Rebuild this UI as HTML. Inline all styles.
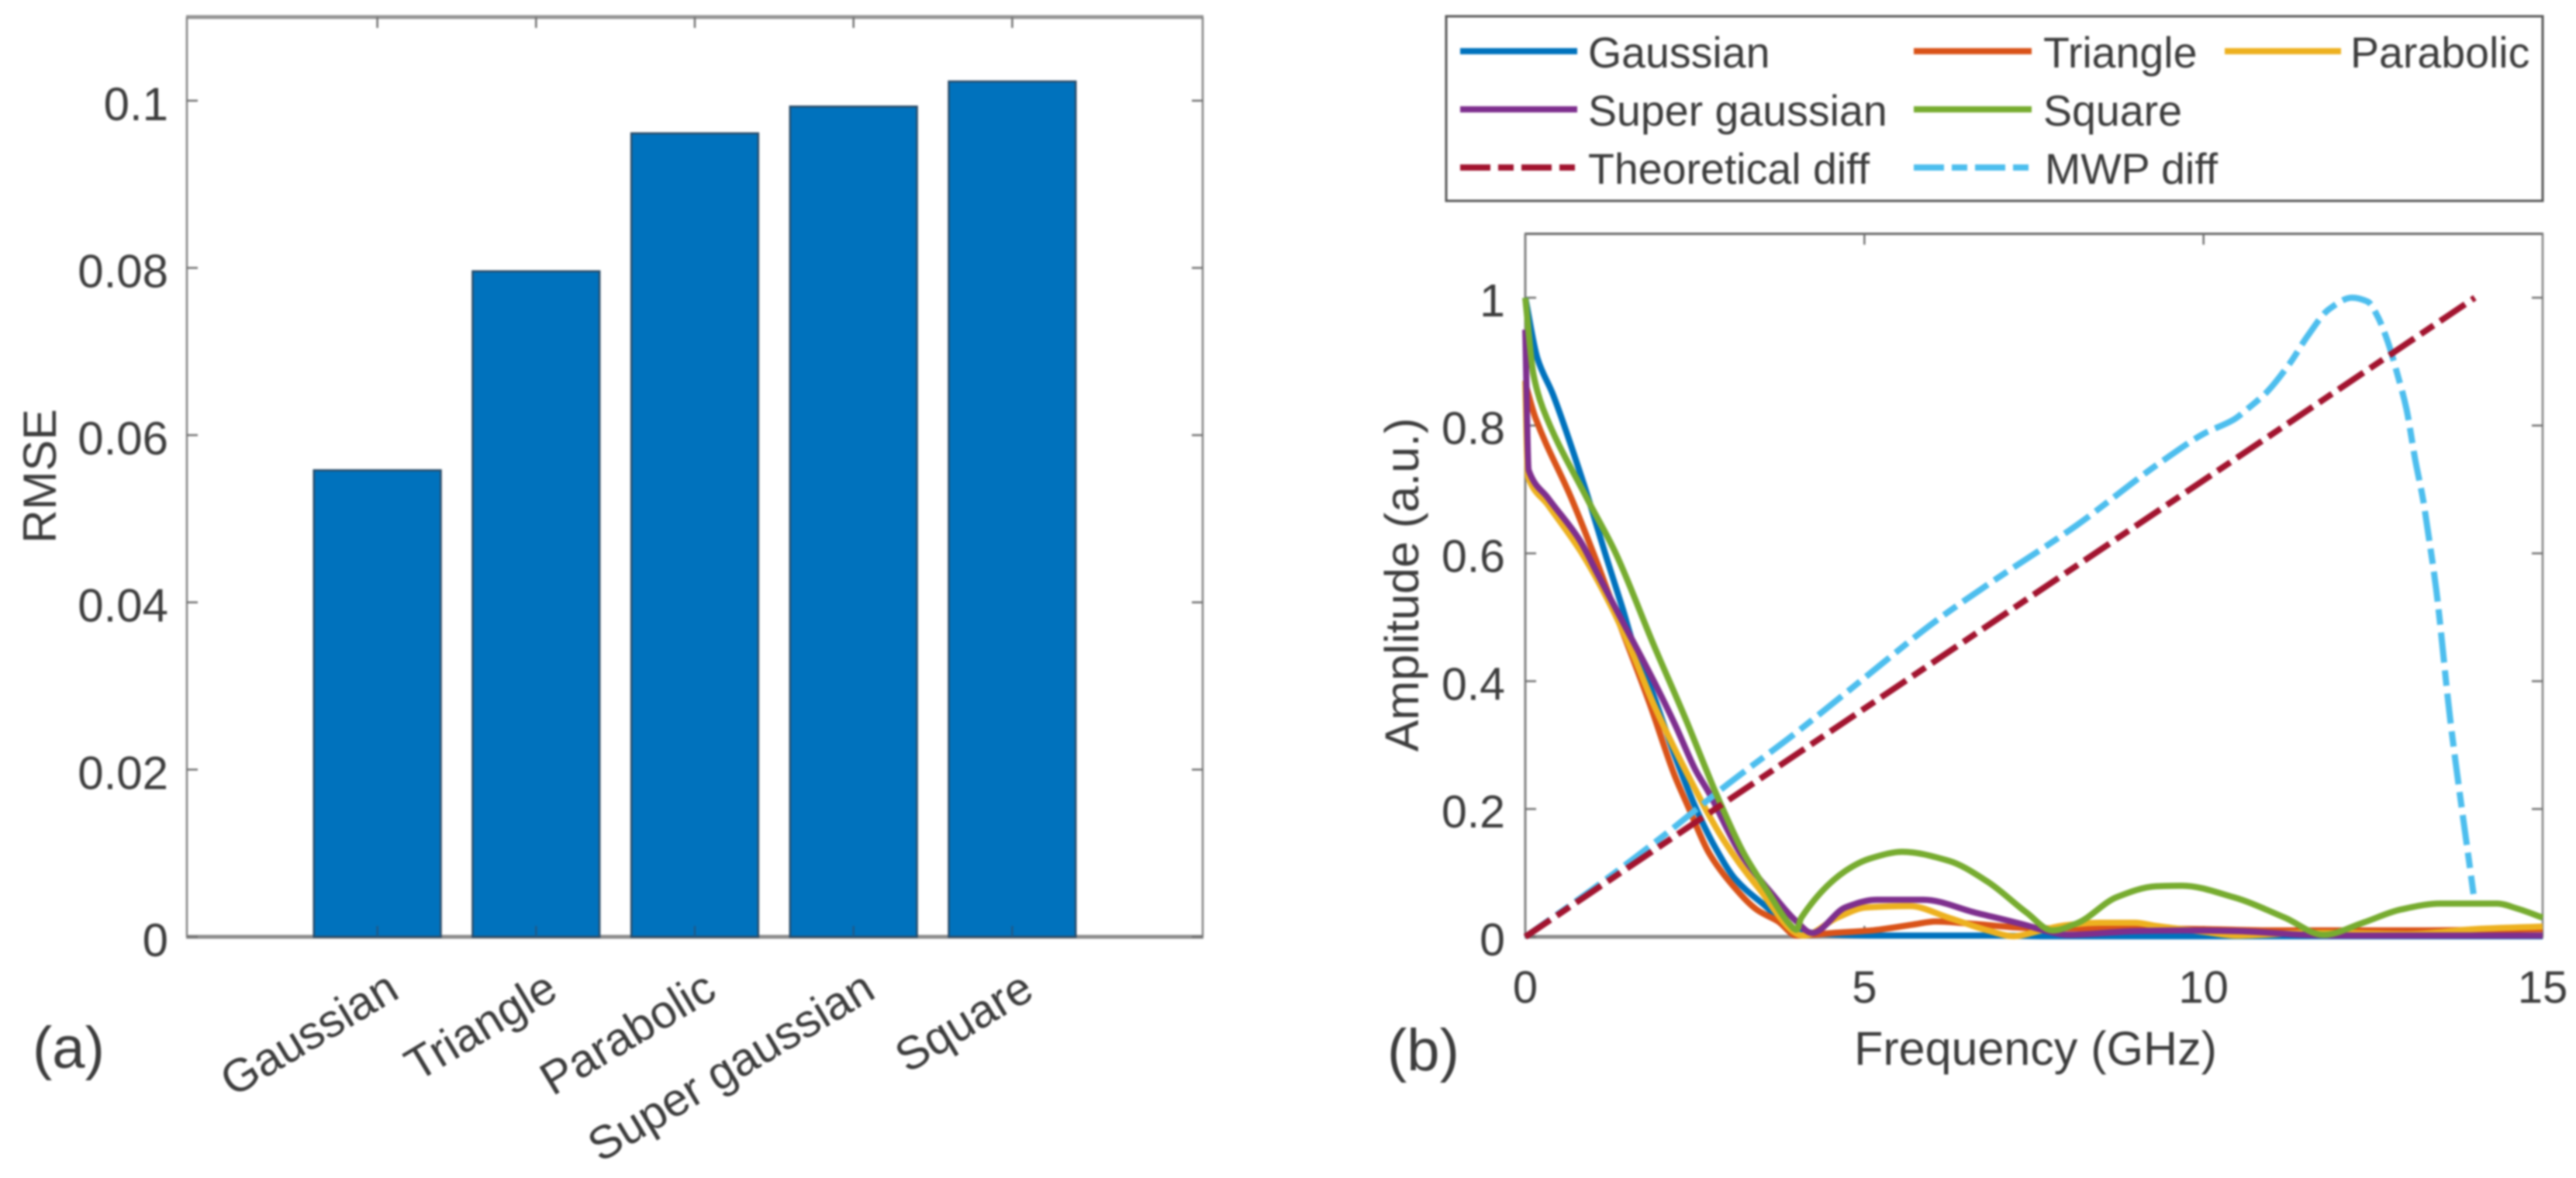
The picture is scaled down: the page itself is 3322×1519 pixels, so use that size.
<!DOCTYPE html>
<html lang="en">
<head>
<meta charset="utf-8">
<title>RMSE and amplitude spectra</title>
<style>
html,body{margin:0;padding:0;background:#fff;width:3322px;height:1519px;overflow:hidden}
svg{display:block;filter:blur(1.4px)}
text{font-family:"Liberation Sans",sans-serif;fill:#3c3c3c}
</style>
</head>
<body>
<svg id="fig" xmlns="http://www.w3.org/2000/svg" width="3322" height="1519" viewBox="0 0 3322 1519">
  <rect x="0" y="0" width="3322" height="1519" fill="#ffffff"/>

  <g id="panelA">
    <g id="axesA"></g>
    <g id="barsA"></g>
    <g id="ticksA"></g>
    <text transform="translate(72,614) rotate(-90)" text-anchor="middle" font-size="60">RMSE</text>
    <text x="42" y="1377" font-size="76">(a)</text>
  </g>

  <g id="panelB">
    <g id="axesB"></g>
    <g id="ticksB"></g>
    <g id="linesB"></g>
    <text transform="translate(1829,754) rotate(-90)" text-anchor="middle" font-size="61">Amplitude (a.u.)</text>
    <text x="2625" y="1373" text-anchor="middle" font-size="61">Frequency (GHz)</text>
    <text x="1789" y="1380" font-size="76">(b)</text>
  </g>

  <g id="legend">
    <rect x="1865" y="21" width="1414" height="238" fill="#ffffff" stroke="#555555" stroke-width="3"/>
    <g>
      <line x1="1883" y1="66" x2="2034" y2="66" stroke="#0072BD" stroke-width="8"/>
      <text x="2048" y="87" font-size="55.5">Gaussian</text>
    </g>
    <g>
      <line x1="2468" y1="66" x2="2620" y2="66" stroke="#D95319" stroke-width="8"/>
      <text x="2635" y="87" font-size="55.5">Triangle</text>
    </g>
    <g>
      <line x1="2869" y1="66" x2="3019" y2="66" stroke="#EDB120" stroke-width="8"/>
      <text x="3031" y="87" font-size="55.5">Parabolic</text>
    </g>
    <g>
      <line x1="1883" y1="141" x2="2034" y2="141" stroke="#7E2F8E" stroke-width="8"/>
      <text x="2048" y="162" font-size="55.5">Super gaussian</text>
    </g>
    <g>
      <line x1="2468" y1="141" x2="2620" y2="141" stroke="#77AC30" stroke-width="8"/>
      <text x="2635" y="162" font-size="55.5">Square</text>
    </g>
    <g>
      <line x1="1883" y1="216" x2="2034" y2="216" stroke="#A2142F" stroke-width="8" stroke-dasharray="39 10 20 10"/>
      <text x="2048" y="237" font-size="55.5">Theoretical diff</text>
    </g>
    <g>
      <line x1="2468" y1="216" x2="2620" y2="216" stroke="#4DBEEE" stroke-width="8" stroke-dasharray="39 10 20 10"/>
      <text x="2637" y="237" font-size="55.5">MWP diff</text>
    </g>
  </g>
</svg>

<script>
// Panel (a) data
var barCategories = ['Gaussian', 'Triangle', 'Parabolic', 'Super gaussian', 'Square'];
var barValues = [0.0558, 0.0796, 0.0961, 0.0993, 0.1023];
var barYTicks = [0, 0.02, 0.04, 0.06, 0.08, 0.1];
var barYTickLabels = ['0', '0.02', '0.04', '0.06', '0.08', '0.1'];

// Panel (b) data
var freqXTicks = [0, 5, 10, 15];
var freqXTickLabels = ['0', '5', '10', '15'];
var ampYTicks = [0, 0.2, 0.4, 0.6, 0.8, 1];
var ampYTickLabels = ['0', '0.2', '0.4', '0.6', '0.8', '1'];

var gaussianF = [0, 0.18, 0.41, 0.87, 1.21, 1.44, 1.6, 1.9, 2.2, 2.5, 2.8, 3.1, 3.52, 4, 4.5, 5.2, 6.8, 7.6, 15];
var gaussianA = [1, 0.905, 0.848, 0.706, 0.589, 0.512, 0.455, 0.375, 0.285, 0.205, 0.14, 0.09, 0.05, 0.01, 0.004, 0.002, 0.002, 0.001, 0.001];

var triangleF = [0, 0.15, 0.68, 1.06, 1.37, 1.83, 2.2, 2.4, 2.71, 3.07, 3.42, 3.73, 4, 4.53, 5.1, 5.71, 6.05, 6.63, 7.39, 8, 9, 10, 11, 12, 13, 15];
var triangleA = [0.866, 0.812, 0.686, 0.585, 0.496, 0.366, 0.253, 0.204, 0.131, 0.079, 0.042, 0.024, 0.002, 0.006, 0.01, 0.019, 0.024, 0.02, 0.014, 0.013, 0.013, 0.012, 0.01, 0.01, 0.01, 0.012];

var parabolicF = [0, 0.04, 0.34, 0.83, 1.29, 1.6, 1.9, 2.36, 2.92, 3.42, 4.1, 4.6, 5.03, 5.67, 6.24, 6.82, 7.2, 7.6, 7.96, 8.46, 8.99, 9.3, 10, 10.5, 11.5, 12, 13, 14, 15];
var parabolicA = [0.87, 0.72, 0.675, 0.601, 0.512, 0.439, 0.362, 0.261, 0.152, 0.079, 0.002, 0.03, 0.046, 0.048, 0.03, 0.01, 0.001, 0.01, 0.018, 0.022, 0.022, 0.017, 0.008, 0.002, 0.006, 0.006, 0.004, 0.012, 0.016];

var superGaussianF = [0, 0.05, 0.34, 0.8, 1.06, 1.44, 1.9, 2.2, 2.51, 2.71, 3.17, 3.68, 3.98, 4.23, 4.72, 5.18, 5.87, 6.63, 7.39, 7.65, 8, 9, 9.7, 10.5, 11.5, 12, 15];
var superGaussianA = [0.95, 0.73, 0.686, 0.621, 0.569, 0.492, 0.399, 0.334, 0.261, 0.225, 0.131, 0.062, 0.026, 0.006, 0.046, 0.058, 0.058, 0.038, 0.018, 0.01, 0.003, 0.009, 0.01, 0.009, 0.003, 0.002, 0.002];

var squareF = [0, 0.12, 0.26, 0.91, 1.33, 1.9, 2.36, 2.7, 2.81, 3.22, 3.58, 3.88, 4, 4.07, 4.72, 5.1, 5.56, 6.24, 6.82, 7.39, 7.77, 8.15, 8.72, 9.3, 9.68, 10.44, 11.2, 11.77, 12.35, 12.92, 13.49, 14.33, 14.63, 15];
var squareA = [1, 0.88, 0.827, 0.686, 0.601, 0.455, 0.342, 0.253, 0.225, 0.131, 0.07, 0.022, 0.011, 0.03, 0.103, 0.123, 0.133, 0.119, 0.086, 0.038, 0.01, 0.022, 0.062, 0.079, 0.08, 0.062, 0.03, 0.003, 0.022, 0.043, 0.052, 0.052, 0.044, 0.03];

var theoreticalF = [0, 14];
var theoreticalA = [0, 1];

var mwpF = [0, 1, 2, 3, 4, 5, 6, 6.79, 8.13, 9.1, 9.4, 10, 10.44, 10.67, 10.93, 11.27, 11.54, 11.85, 12.19, 12.42, 12.57, 12.72, 12.87, 12.99, 13.12, 13.24, 13.32, 13.43, 13.64, 13.98];
var mwpA = [0, 0.075, 0.155, 0.24, 0.32, 0.405, 0.49, 0.549, 0.644, 0.722, 0.745, 0.787, 0.809, 0.828, 0.852, 0.897, 0.941, 0.982, 1, 0.994, 0.97, 0.93, 0.876, 0.827, 0.747, 0.682, 0.626, 0.544, 0.338, 0.067];

var NS = 'http://www.w3.org/2000/svg';

// Axis functions
var aLeft = 241, aRight = 1551, aTop = 22, aBottom = 1208;
function aX(c) { return aLeft + (c + 0.2) / 6.4 * (aRight - aLeft); }
function aY(v) { return aBottom - v / 0.11 * (aBottom - aTop); }

var bLeft = 1967, bRight = 3279, bTop = 301.5, bBottom = 1208;
function bX(f) { return bLeft + f / 15 * (bRight - bLeft); }
function bY(v) { return bBottom - v / 1.1 * (bBottom - bTop); }

function mk(tag, parent) {
  var el = document.createElementNS(NS, tag);
  parent.appendChild(el);
  return el;
}
function setLine(el, x1, y1, x2, y2, color, w) {
  el.setAttribute('x1', x1); el.setAttribute('y1', y1);
  el.setAttribute('x2', x2); el.setAttribute('y2', y2);
  el.setAttribute('stroke', color); el.setAttribute('stroke-width', w);
}

// Panel (a) frame
var axesA = document.getElementById('axesA');
var aTopLine = mk('line', axesA);


setLine(aTopLine, aLeft - 1, aTop, aRight + 1, aTop, '#949494', 5);
var aBottomLine = mk('line', axesA);


setLine(aBottomLine, aLeft - 1, aBottom, aRight + 1, aBottom, '#8c8c8c', 5);
var aLeftLine = mk('line', axesA);


setLine(aLeftLine, aLeft, aTop, aLeft, aBottom, '#808080', 2.5);
var aRightLine = mk('line', axesA);


setLine(aRightLine, aRight, aTop, aRight, aBottom, '#808080', 2.5);

// Panel (a) bars
var barsA = document.getElementById('barsA');
barValues.forEach(function (v, i) {
  var r = mk('rect', barsA);
  
  
  var w = 0.8 * (aX(1) - aX(0));
  r.setAttribute('x', aX(i + 1) - w / 2);
  r.setAttribute('y', aY(v));
  r.setAttribute('width', w);
  r.setAttribute('height', aY(0) - aY(v));
  r.setAttribute('fill', '#0072BD');
  r.setAttribute('stroke', '#2a4a66');
  r.setAttribute('stroke-width', 2.5);
});

// Panel (a) ticks and labels
var ticksA = document.getElementById('ticksA');
barCategories.forEach(function (name, i) {
  var x = aX(i + 1);
  var t1 = mk('line', ticksA);
  
  
  setLine(t1, x, aTop, x, aTop + 14, '#707070', 2.5);
  var t2 = mk('line', ticksA);
  
  
  setLine(t2, x, aBottom, x, aBottom - 14, '#205a88', 2.5);
  var lab = mk('text', ticksA);
  
  
  lab.setAttribute('text-anchor', 'end');
  lab.setAttribute('font-size', 60);
  lab.setAttribute('transform', 'translate(' + (x + 31) + ',1285) rotate(-31)');
  lab.textContent = name;
});
barYTicks.forEach(function (v, i) {
  var y = aY(v);
  var t1 = mk('line', ticksA);
  
  
  setLine(t1, aLeft, y, aLeft + 14, y, '#707070', 2.5);
  var t2 = mk('line', ticksA);
  
  
  setLine(t2, aRight, y, aRight - 14, y, '#707070', 2.5);
  var lab = mk('text', ticksA);
  
  
  lab.setAttribute('x', 217);
  lab.setAttribute('y', y + 25);
  lab.setAttribute('text-anchor', 'end');
  lab.setAttribute('font-size', 60);
  lab.textContent = barYTickLabels[i];
});

// Panel (b) frame
var axesB = document.getElementById('axesB');
var bTopLine = mk('line', axesB);


setLine(bTopLine, bLeft - 1, bTop, bRight + 1, bTop, '#666666', 3);
var bBottomLine = mk('line', axesB);


setLine(bBottomLine, bLeft - 1, bBottom, bRight + 1, bBottom, '#8c8c8c', 5);
var bLeftLine = mk('line', axesB);


setLine(bLeftLine, bLeft, bTop, bLeft, bBottom, '#808080', 3);
var bRightLine = mk('line', axesB);


setLine(bRightLine, bRight, bTop, bRight, bBottom, '#808080', 2.5);

// Panel (b) ticks and labels
var ticksB = document.getElementById('ticksB');
freqXTicks.forEach(function (f, i) {
  var x = bX(f);
  if (f > 0 && f < 15) {
    var t1 = mk('line', ticksB);
    
    
    setLine(t1, x, bTop, x, bTop + 14, '#707070', 2.5);
    var t2 = mk('line', ticksB);
    
    
    setLine(t2, x, bBottom, x, bBottom - 14, '#707070', 2.5);
  }
  var lab = mk('text', ticksB);
  
  
  lab.setAttribute('x', x);
  lab.setAttribute('y', 1293);
  lab.setAttribute('text-anchor', 'middle');
  lab.setAttribute('font-size', 58);
  lab.textContent = freqXTickLabels[i];
});
ampYTicks.forEach(function (v, i) {
  var y = bY(v);
  var t1 = mk('line', ticksB);
  
  
  setLine(t1, bLeft, y, bLeft + 14, y, '#707070', 2.5);
  var t2 = mk('line', ticksB);
  
  
  setLine(t2, bRight, y, bRight - 14, y, '#707070', 2.5);
  var lab = mk('text', ticksB);
  
  
  lab.setAttribute('x', 1941);
  lab.setAttribute('y', y + 24);
  lab.setAttribute('text-anchor', 'end');
  lab.setAttribute('font-size', 59);
  lab.textContent = ampYTickLabels[i];
});

// Monotone cubic path through the data points (no overshoot), via the axis functions
function curvePath(fs, as) {
  var pts = fs.map(function (f, i) { return [bX(f), bY(as[i])]; });
  var n = pts.length, slopes = [], tang = [], i;
  for (i = 0; i < n - 1; i++) {
    slopes.push((pts[i + 1][1] - pts[i][1]) / (pts[i + 1][0] - pts[i][0]));
  }
  tang.push(slopes[0]);
  for (i = 1; i < n - 1; i++) {
    var a = slopes[i - 1], b = slopes[i];
    tang.push(a * b <= 0 ? 0 : 2 * a * b / (a + b));
  }
  tang.push(slopes[n - 2]);
  var d = 'M' + pts[0][0].toFixed(1) + ' ' + pts[0][1].toFixed(1);
  for (i = 0; i < n - 1; i++) {
    var h = (pts[i + 1][0] - pts[i][0]) / 3;
    d += 'C' + (pts[i][0] + h).toFixed(1) + ' ' + (pts[i][1] + tang[i] * h).toFixed(1) + ' ' +
      (pts[i + 1][0] - h).toFixed(1) + ' ' + (pts[i + 1][1] - tang[i + 1] * h).toFixed(1) + ' ' +
      pts[i + 1][0].toFixed(1) + ' ' + pts[i + 1][1].toFixed(1);
  }
  return d;
}

var linesB = document.getElementById('linesB');

var lineGaussian = mk('path', linesB);


lineGaussian.setAttribute('d', curvePath(gaussianF, gaussianA));
lineGaussian.setAttribute('stroke', '#0072BD');

var lineTriangle = mk('path', linesB);


lineTriangle.setAttribute('d', curvePath(triangleF, triangleA));
lineTriangle.setAttribute('stroke', '#D95319');

var lineParabolic = mk('path', linesB);


lineParabolic.setAttribute('d', curvePath(parabolicF, parabolicA));
lineParabolic.setAttribute('stroke', '#EDB120');

var lineSuper = mk('path', linesB);


lineSuper.setAttribute('d', curvePath(superGaussianF, superGaussianA));
lineSuper.setAttribute('stroke', '#7E2F8E');

var lineMwp = mk('path', linesB);


lineMwp.setAttribute('d', curvePath(mwpF, mwpA));
lineMwp.setAttribute('stroke', '#4DBEEE');
lineMwp.setAttribute('stroke-dasharray', '39 10 20 10');

var lineSquare = mk('path', linesB);


lineSquare.setAttribute('d', curvePath(squareF, squareA));
lineSquare.setAttribute('stroke', '#77AC30');

var lineTheory = mk('path', linesB);


lineTheory.setAttribute('d', curvePath(theoreticalF, theoreticalA));
lineTheory.setAttribute('stroke', '#A2142F');
lineTheory.setAttribute('stroke-dasharray', '39 10 20 10');

[lineGaussian, lineTriangle, lineParabolic, lineSuper, lineMwp, lineSquare, lineTheory].forEach(function (p) {
  p.setAttribute('fill', 'none');
  p.setAttribute('stroke-width', 8);
  p.setAttribute('stroke-linejoin', 'round');
});
</script>
</body>
</html>
